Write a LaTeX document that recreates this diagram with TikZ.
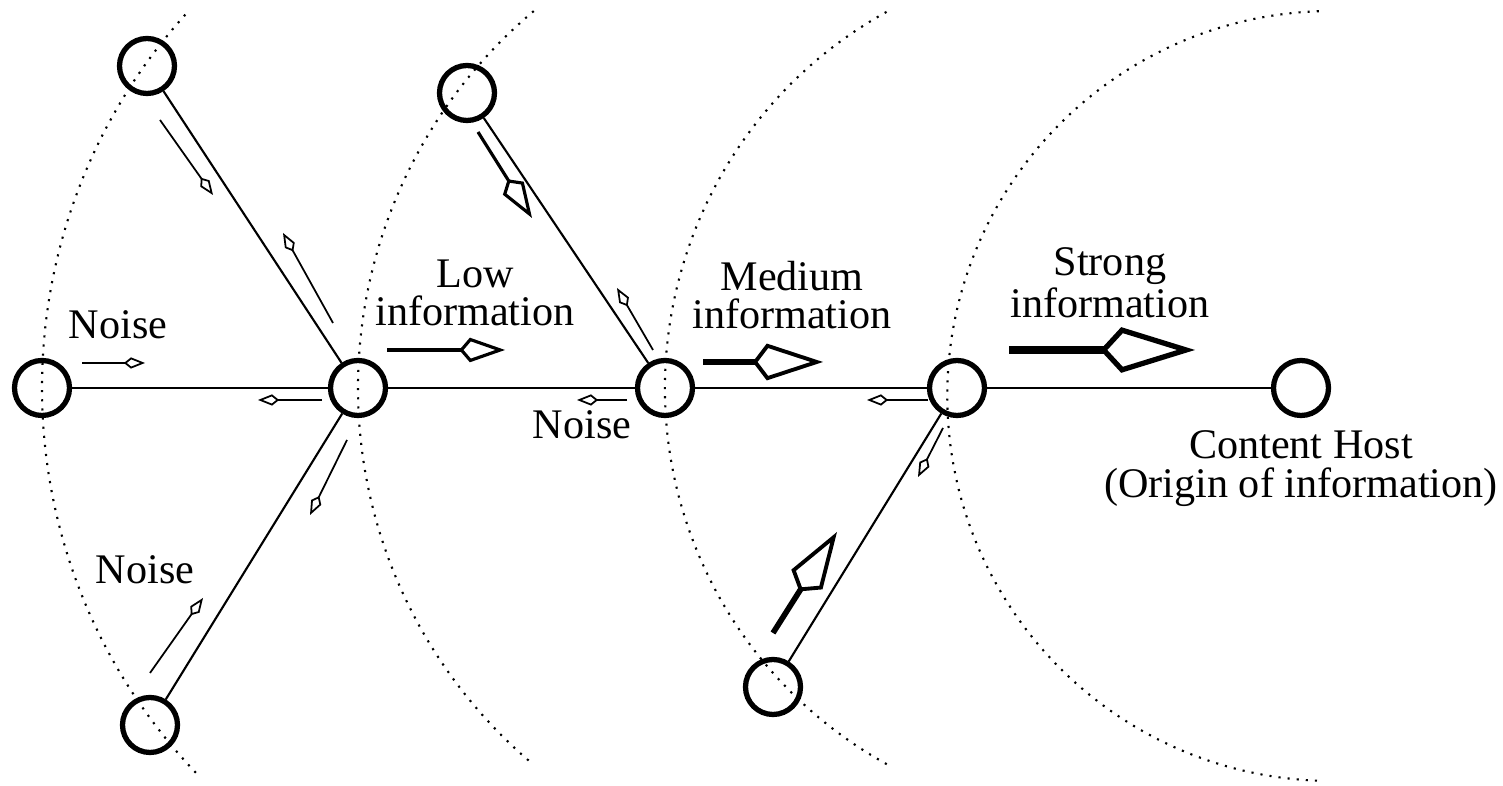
\documentclass[tikz,border=0pt]{standalone}
\usepackage{fontspec}
\setmainfont{Liberation Serif}
\usepackage{tikz}
\usetikzlibrary{
  arrows.meta,
  positioning
}

\begin{document}
\begin{tikzpicture}[
    every node/.style={font=\fontsize{12}{11}\selectfont},
    peer/.style={circle, draw, line width=1.5pt, minimum size=0.55cm, inner sep=0pt},
    link/.style={line width=0.6pt},
    ring/.style={dotted, line width=0.6pt},
    noiseflow/.style={line width=0.5pt, -{Kite[open, length=6pt, width=3.2pt, inset=2pt]}},
    lowflow/.style={line width=0.9pt, -{Kite[open, length=13pt, width=7pt, inset=3pt]}},
    midflow/.style={line width=1.6pt, -{Kite[open, length=20pt, width=10.5pt, inset=4pt, line width=1.1pt]}},
    strongflow/.style={line width=2.4pt, -{Kite[open, length=27pt, width=13pt, inset=6pt, line width=1.5pt]}}
  ]
                    \useasboundingbox (0,0) rectangle (15.03,7.86);

                    % rings round the content host
                    \draw[ring] (6.00,3.98) ++(138:5.58) arc[start angle=138, end angle=224, radius=5.58];
                    \draw[ring] (8.50,3.98) ++(130:4.92) arc[start angle=130, end angle=230, radius=4.92];
                    \draw[ring] (10.95,3.98) ++(119:4.30) arc[start angle=119, end angle=241.5, radius=4.30];
                    \draw[ring] (13.32,3.98) ++(92:3.77) arc[start angle=92, end angle=268, radius=3.85];

                    \node[peer] (far) at (0.42,3.98) {};
                    \node[peer] (farT) at (1.47,7.20) {};
                    \node[peer] (farB) at (1.50,0.61) {};
                    \node[peer] (low) at (3.58,3.98) {};
                    \node[peer] (lowT) at (4.67,6.93) {};
                    \node[peer] (mid) at (6.65,3.98) {};
                    \node[peer] (midB) at (7.73,0.99) {};
                    \node[peer] (strong) at (9.57,3.98) {};
                    \node[peer] (origin) at (13.01,3.98) {};

                    \draw[link] (far) -- (low);
                    \draw[link] (low) -- (mid);
                    \draw[link] (mid) -- (strong);
                    \draw[link] (strong) -- (origin);
                    \draw[link] (farT) -- (low);
                    \draw[link] (farB) -- (low);
                    \draw[link] (lowT) -- (mid);
                    \draw[link] (midB) -- (strong);

                    % flows along the links
                    \draw[noiseflow] (0.82,4.23) -- (1.45,4.23);
                    \draw[noiseflow] (3.22,3.86) -- (2.58,3.86);
                    \draw[noiseflow] (6.27,3.86) -- (5.77,3.86);
                    \draw[noiseflow] (9.28,3.86) -- (8.67,3.86);
                    \draw[noiseflow] (1.60,6.66) -- (2.13,5.91);
                    \draw[noiseflow] (3.33,4.63) -- (2.83,5.53);
                    \draw[noiseflow] (3.47,3.46) -- (3.10,2.71);
                    \draw[noiseflow] (1.50,1.13) -- (2.03,1.88);
                    \draw[noiseflow] (6.53,4.36) -- (6.17,4.98);
                    \draw[noiseflow] (9.43,3.58) -- (9.18,3.09);
                    \draw[lowflow] (3.87,4.36) -- (5.05,4.36);
                    \draw[lowflow] (4.78,6.54) -- (5.32,5.68);
                    \draw[midflow] (7.03,4.24) -- (8.23,4.24);
                    \draw[midflow] (7.73,1.53) -- (8.37,2.54);
                    \draw[strongflow] (10.09,4.36) -- (11.95,4.36);

                    \node (noiseA) at (1.18,4.61) {Noise};
                    \node (noiseB) at (1.45,2.16) {Noise};
                    \node (noiseC) at (5.82,3.61) {Noise};
                    \node[align=center] (lowtext) at (4.75,4.93) {Low\\information};
                    \node[align=center] (midtext) at (7.92,4.91) {Medium\\information};
                    \node[align=center] (strongtext) at (11.10,5.03) {Strong\\information};
                    \node[align=center, below=0pt of origin] (origintext) {Content Host\\(Origin of information)};
\end{tikzpicture}
\end{document}
